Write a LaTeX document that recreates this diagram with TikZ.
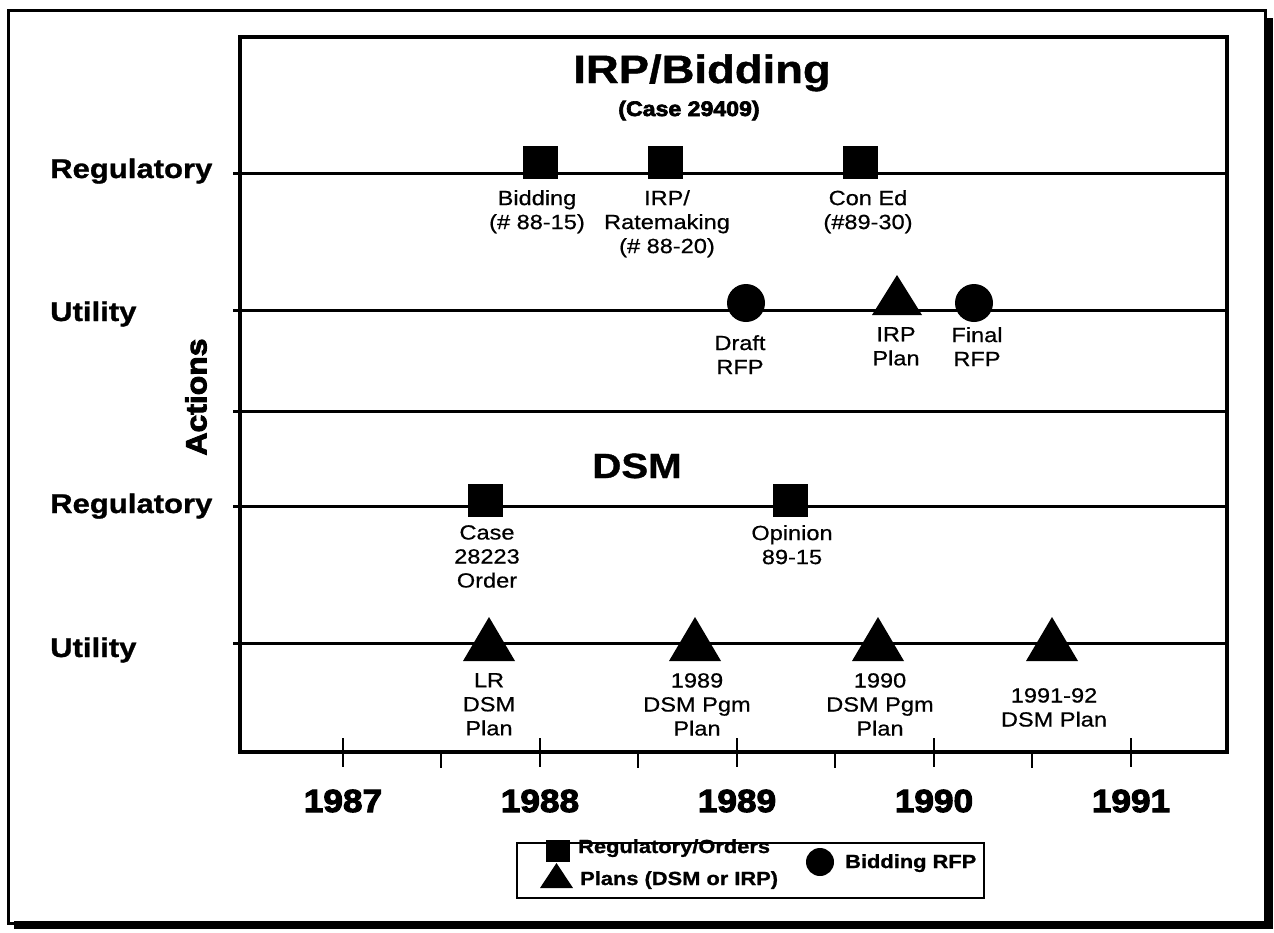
\documentclass[tikz,border=0pt]{standalone}
\usepackage{fontspec}
\setmainfont[FakeStretch=1.15,BoldFeatures={FakeBold=1}]{Liberation Sans}
\newfontfamily\heavyfont[FakeStretch=1.1,BoldFeatures={FakeBold=3.2}]{Liberation Sans}
\newfontfamily\labfont[FakeStretch=1.15,FakeBold=0.6]{Liberation Sans}
\begin{document}
\begin{tikzpicture}[x=1pt,y=-1pt,
  rowline/.style={line width=3pt},
  tickline/.style={line width=2pt},
  sqmark/.style={fill=black,minimum width=35pt,minimum height=33pt,inner sep=0pt},
  cirmark/.style={circle,fill=black,minimum size=38pt,inner sep=0pt},
  trimark/.style={fill=black},
  lab/.style={anchor=north,align=center,inner sep=0pt,font=\labfont\fontsize{20.5}{24}\selectfont},
  sidelab/.style={anchor=base west,inner sep=0pt,font=\fontsize{27}{30}\selectfont\bfseries},
  yearlab/.style={anchor=base,inner sep=0pt,font=\heavyfont\bfseries\fontsize{32}{34}\selectfont},
  leglab/.style={anchor=base west,inner sep=0pt,font=\fontsize{19}{22}\selectfont\bfseries}]
\useasboundingbox (0,0) rectangle (1274,932);
% outer frame with shadow
\draw[line width=3pt] (8,10) rectangle (1265,923);
\fill (1265,18) rectangle (1273,929);
\fill (14,921) rectangle (1273,929);
% inner plot box
\draw[line width=3.5pt] (240,37) rectangle (1227,752);
% row lines
\foreach \yy in {173,310,411,506,643}{\draw[rowline] (233,\yy) -- (1227,\yy);}
% axis ticks
\foreach \xx in {343,540,737,934,1131}{\draw[tickline] (\xx,738) -- (\xx,767);}
\foreach \xx in {441,638,835,1032}{\draw[tickline] (\xx,752) -- (\xx,768);}
% titles
\node[anchor=base,inner sep=0pt,font=\fontsize{39.5}{42}\selectfont\bfseries] (t1) at (702,83) {IRP/Bidding};
\node[anchor=base,inner sep=0pt,font=\heavyfont\bfseries\fontsize{21}{24}\selectfont] (t2) at (689,116) {(Case 29409)};
\node[anchor=base,inner sep=0pt,font=\fontsize{35}{38}\selectfont\bfseries] (t3) at (637,478) {DSM};
% side labels
\node[sidelab] (s1) at (50,178) {Regulatory};
\node[sidelab] (s2) at (50,321) {Utility};
\node[sidelab] (s3) at (50,513) {Regulatory};
\node[sidelab] (s4) at (50,657) {Utility};
\node[rotate=90,inner sep=0pt,font=\heavyfont\bfseries\fontsize{29}{32}\selectfont] (act) at (196,397) {Actions};
% markers: IRP/Bidding regulatory
\node[sqmark] (m1) at (540,162) {};
\node[sqmark] (m2) at (665,162) {};
\node[sqmark] (m3) at (860,162) {};
% utility
\node[cirmark] (m4) at (746,303) {};
\fill[trimark] (872,315) -- (922,315) -- (897,275) -- cycle;
\node[cirmark] (m6) at (974,303) {};
% DSM regulatory
\node[sqmark] (m7) at (485,500) {};
\node[sqmark] (m8) at (790,500) {};
% DSM utility
\foreach \xx in {489,695,878,1052}{\fill[trimark] (\xx-26,661) -- (\xx+26,661) -- (\xx,617) -- cycle;}
% marker labels
\node[lab] (l1) at (537,190) {Bidding\\(\# 88-15)};
\node[lab] (l2) at (667,190) {IRP/\\Ratemaking\\(\# 88-20)};
\node[lab] (l3) at (868,190) {Con Ed\\(\#89-30)};
\node[lab] (l4) at (740,335) {Draft\\RFP};
\node[lab] (l5) at (896,327) {IRP\\Plan};
\node[lab] (l6) at (977,327) {Final\\RFP};
\node[lab] (l7) at (487,525) {Case\\28223\\Order};
\node[lab] (l8) at (792,525) {Opinion\\89-15};
\node[lab] (l9) at (489,673) {LR\\DSM\\Plan};
\node[lab] (l10) at (697,673) {1989\\DSM Pgm\\Plan};
\node[lab] (l11) at (880,673) {1990\\DSM Pgm\\Plan};
\node[lab] (l12) at (1054,688) {1991-92\\DSM Plan};
% years
\node[yearlab] (y1) at (343,812) {1987};
\node[yearlab] (y2) at (540,812) {1988};
\node[yearlab] (y3) at (737,812) {1989};
\node[yearlab] (y4) at (934,812) {1990};
\node[yearlab] (y5) at (1131,812) {1991};
% legend
\draw[line width=2pt] (517,843) rectangle (984,898);
\node[fill=black,minimum width=24pt,minimum height=22pt,inner sep=0pt] (g1) at (558,851) {};
\node[leglab] (g1t) at (578,853) {Regulatory/Orders};
\fill[trimark] (540,888) -- (573,888) -- (556.5,863) -- cycle;
\node[leglab] (g2t) at (580,885) {Plans (DSM or IRP)};
\node[circle,fill=black,minimum size=28pt,inner sep=0pt] (g3) at (820,862) {};
\node[leglab] (g3t) at (845,868) {Bidding RFP};
\end{tikzpicture}
\end{document}
